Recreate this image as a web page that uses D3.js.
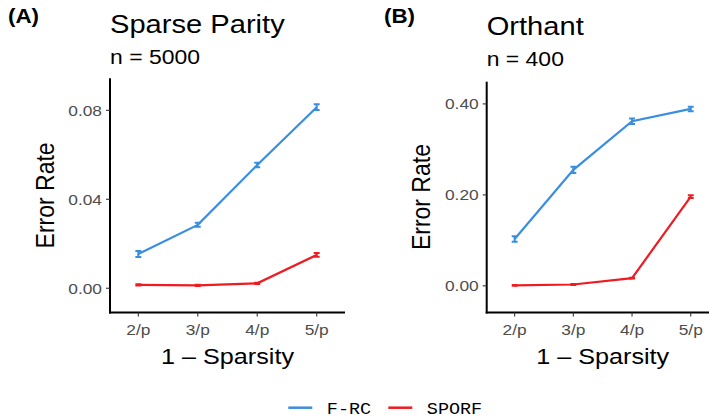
<!DOCTYPE html>
<html><head><meta charset="utf-8">
<script src="https://cdn.jsdelivr.net/npm/d3@7"></script>
<style>body{margin:0;background:#fff}svg{display:block}</style>
</head><body>
<script>
// ---- data ----
const categories = ["2/p", "3/p", "4/p", "5/p"];
const seriesNames = ["F-RC", "SPORF"];
const colors = ["#3A8EDF", "#EE1C22"];

// Panel A: Sparse Parity, n = 5000
const parityFRC = [0.0154, 0.0285, 0.0554, 0.0814];
const parityFRCerr = [0.0014, 0.0009, 0.0010, 0.0013];
const paritySPORF = [0.0015, 0.0013, 0.0022, 0.0150];
const paritySPORFerr = [0.0003, 0.0003, 0.0003, 0.0008];
const parityTicks = [0.00, 0.04, 0.08];
const parityDomain = [-0.0109, 0.0944];

// Panel B: Orthant, n = 400
const orthantFRC = [0.103, 0.255, 0.362, 0.389];
const orthantFRCerr = [0.006, 0.007, 0.006, 0.005];
const orthantSPORF = [0.001, 0.003, 0.017, 0.196];
const orthantSPORFerr = [0.001, 0.001, 0.001, 0.003];
const orthantTicks = [0.00, 0.20, 0.40];
const orthantDomain = [-0.0586, 0.4488];

const W = 709, H = 419, SX = 1.12;
const svg = d3.select("body").append("svg").attr("width", W).attr("height", H);
const FONT = "'Liberation Sans', Arial, sans-serif";

function txt(g, x, y, s, o) {
  o = o || {};
  let tr = `translate(${x},${y}) scale(${SX},1)` + (o.rot ? ` rotate(${o.rot})` : "");
  return g.append("text").attr("transform", tr).text(s)
    .attr("font-family", o.family || FONT).attr("font-size", o.size || 15)
    .attr("font-weight", o.weight || "normal").attr("fill", o.fill || "#000")
    .attr("text-anchor", o.anchor || "start");
}

function panel(cfg) {
  const g = svg.append("g");
  const x = d3.scalePoint().domain(categories).range([cfg.x0, cfg.x1]).padding(0.476);
  const y = d3.scaleLinear().domain(cfg.domain).range([cfg.yb, cfg.yt]);
  const step = x.step();

  // axes lines
  g.append("line").attr("x1", cfg.x0).attr("x2", cfg.x0).attr("y1", cfg.yt).attr("y2", cfg.yb + 1)
    .attr("stroke", "#000").attr("stroke-width", 2);
  g.append("line").attr("x1", cfg.x0 - 1).attr("x2", cfg.x1).attr("y1", cfg.yb).attr("y2", cfg.yb)
    .attr("stroke", "#000").attr("stroke-width", 2);

  // y ticks
  cfg.ticks.forEach(t => {
    g.append("line").attr("x1", cfg.x0 - 4).attr("x2", cfg.x0).attr("y1", y(t)).attr("y2", y(t))
      .attr("stroke", "#333").attr("stroke-width", 1.1);
    txt(g, cfg.x0 - 8, y(t) + 5.5, d3.format(".2f")(t), {size: 15.5, fill: "#4D4D4D", anchor: "end"});
  });
  // x ticks
  categories.forEach(c => {
    g.append("line").attr("x1", x(c)).attr("x2", x(c)).attr("y1", cfg.yb).attr("y2", cfg.yb + 4)
      .attr("stroke", "#333").attr("stroke-width", 1.1);
    txt(g, x(c), cfg.yb + 22.5, c, {size: 15.5, fill: "#4D4D4D", anchor: "middle"});
  });

  // series
  cfg.series.forEach((s, i) => {
    const line = d3.line().x((d, j) => x(categories[j])).y(d => y(d));
    g.append("path").datum(s.v).attr("d", line).attr("fill", "none")
      .attr("stroke", colors[i]).attr("stroke-width", 2.2);
    s.v.forEach((v, j) => {
      const cx = x(categories[j]), hw = step * 0.05;
      const lo = y(v - s.e[j]), hi = y(v + s.e[j]);
      g.append("path").attr("d", `M${cx - hw},${hi}H${cx + hw}M${cx},${hi}V${lo}M${cx - hw},${lo}H${cx + hw}`)
        .attr("fill", "none").attr("stroke", colors[i]).attr("stroke-width", 2);
    });
  });

  // titles
  txt(g, cfg.labX, 22.5, cfg.label, {size: 20, weight: "bold"});
  txt(g, cfg.x0, cfg.titleY, cfg.title, {size: 26});
  txt(g, cfg.x0, cfg.titleY + 30.5, cfg.sub, {size: 20.5});
  txt(g, cfg.ytX, (cfg.yt + cfg.yb) / 2, "Error Rate", {size: 23, anchor: "middle", rot: -90});
  txt(g, (cfg.x0 + cfg.x1) / 2, 363.5, "1 \u2013 Sparsity", {size: 22.5, anchor: "middle"});
}

panel({x0: 110, x1: 345, yt: 78.3, yb: 312.5, domain: parityDomain, ticks: parityTicks,
  series: [{v: parityFRC, e: parityFRCerr}, {v: paritySPORF, e: paritySPORFerr}],
  label: "(A)", labX: 8, title: "Sparse Parity", sub: "n = 5000", titleY: 33, ytX: 53.5});
panel({x0: 486.7, x1: 718.7, yt: 81.7, yb: 312.5, domain: orthantDomain, ticks: orthantTicks,
  series: [{v: orthantFRC, e: orthantFRCerr}, {v: orthantSPORF, e: orthantSPORFerr}],
  label: "(B)", labX: 384, title: "Orthant", sub: "n = 400", titleY: 35, ytX: 430});

// legend
const leg = svg.append("g");
const legX = [288.3, 388.3];
seriesNames.forEach((n, i) => {
  leg.append("line").attr("x1", legX[i]).attr("x2", legX[i] + 24).attr("y1", 407.7).attr("y2", 407.7)
    .attr("stroke", colors[i]).attr("stroke-width", 2.5);
  txt(leg, legX[i] + 38.5, 413.5, n, {size: 16.5, family: "'Liberation Mono', 'Courier New', monospace"});
});
</script>
</body></html>
